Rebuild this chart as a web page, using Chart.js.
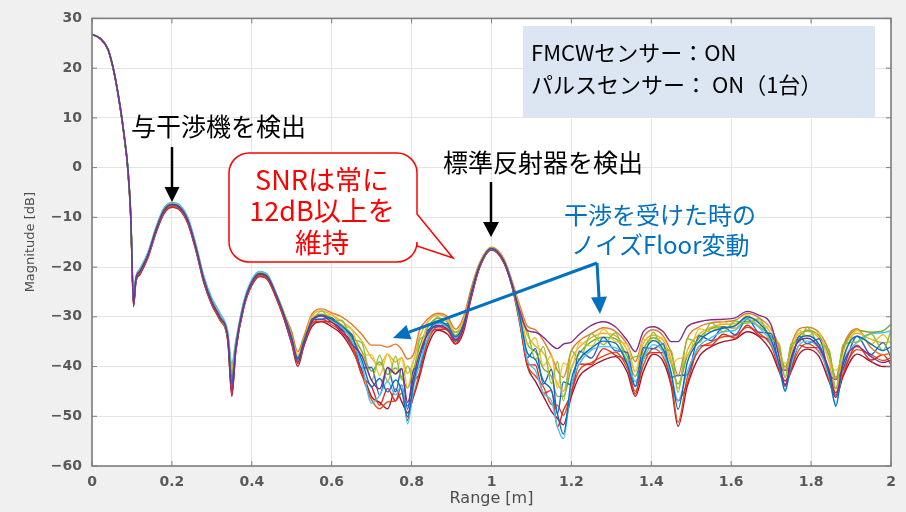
<!DOCTYPE html>
<html>
<head>
<meta charset="utf-8">
<script src="https://cdn.jsdelivr.net/npm/chart.js@4.4.1/dist/chart.umd.min.js"></script>
<style>
  html, body { margin: 0; padding: 0; background: #f0f0f0; }
  #wrap { width: 906px; height: 512px; }
</style>
</head>
<body>
<div id="wrap"><canvas id="chart" width="906" height="512"></canvas></div>
<script>
// range axis [m] shared by every trace
const rangeM = [0, 0.02, 0.04, 0.055, 0.07, 0.08, 0.09, 0.097, 0.104, 0.11,
  0.12, 0.14, 0.16, 0.18, 0.2, 0.22, 0.24, 0.26, 0.28, 0.3,
  0.32, 0.34, 0.35, 0.36, 0.38, 0.4, 0.42, 0.44, 0.46, 0.48,
  0.5, 0.515, 0.53, 0.55, 0.575, 0.6, 0.625, 0.65, 0.675, 0.7,
  0.72, 0.74, 0.76, 0.775, 0.79, 0.805, 0.82, 0.84, 0.865, 0.89,
  0.91, 0.93, 0.95, 0.97, 1.0, 1.03, 1.05, 1.07, 1.09, 1.11,
  1.13, 1.15, 1.165, 1.18, 1.2, 1.22, 1.25, 1.28, 1.31, 1.34,
  1.36, 1.38, 1.405, 1.43, 1.45, 1.467, 1.49, 1.52, 1.55, 1.58,
  1.61, 1.64, 1.67, 1.7, 1.72, 1.735, 1.75, 1.77, 1.79, 1.82,
  1.845, 1.862, 1.88, 1.915, 1.95, 1.98, 2.0];

// magnitude [dB] of the measured traces
const tracePurple = [26.8, 26, 23.8, 19.3, 12.5, 6.8, -0.4, -9.5, -27.5, -22.4, -20.9, -17.6, -12.6, -8.7, -7.4, -8, -10.7, -16.1, -22.6, -27.1, -30.1, -34.3, -45, -36.3, -27.6, -23.1, -21.4, -22.1, -25.5, -29.6,
  -34.5, -39.1, -35.4, -31, -29.8, -31.1, -32.5, -35.5, -37.8, -42.8, -44.5, -40.2, -41.5, -40.4, -47.2, -42, -37.4, -33.5, -31.7, -32.5, -34.6, -32.1, -25.3, -19.8, -16.3, -18.7, -23.2, -28.6, -32.8, -33.1, -34.1, -35.7, -36.4, -35.5, -35.1, -33.5, -31.7, -31, -32, -34.8, -37, -33, -32, -33, -35, -35, -32, -31, -30.6, -30.5, -30.2, -28.9, -29.7, -31.6, -38.2, -44, -38.2, -34.8, -34.3, -36.2, -40.6, -45.8, -39.6, -36, -38, -39.2, -38.7];
const traceBlue = [26.8, 26, 23.8, 19.3, 12.5, 6.8, -0.4, -9.5, -27, -22.3, -20.8, -17.5, -12.5, -8.6, -7.4, -8, -10.6, -16, -22.5, -27, -30, -34, -43, -36, -27.5, -23, -21.3, -22, -25.3, -29.5,
  -34.3, -38.5, -35, -30.8, -29.7, -30.5, -31.8, -34, -38.6, -44.1, -42.4, -45.1, -42.7, -44.8, -50.1, -43.3, -38.3, -33.3, -31, -31.8, -34, -31.5, -25, -19.7, -16.3, -18.6, -23, -29.6, -37.3, -38.6, -42.9, -44.8, -49.5, -53.6, -42.6, -38.6, -36.3, -34.9, -35.3, -39.6, -44, -37.8, -34.8, -36.6, -41.3, -48.6, -39.2, -34.9, -33, -32.3, -31.8, -30, -31.3, -34.6, -39.6, -45, -38.9, -34.5, -33.8, -35.6, -41.4, -48, -38.8, -33.9, -35.5, -36.8, -36];
const traceCyan = [26.8, 26, 23.9, 19.5, 12.8, 7.1, 0, -8.8, -25.5, -21.8, -20.3, -17, -12, -8.1, -7, -7.5, -10, -15.3, -21.8, -26.2, -29.2, -33, -39.5, -34.8, -26.8, -22.5, -20.9, -21.6, -25.1, -29.2,
  -34.5, -38.8, -35.2, -31, -29.9, -30.8, -32.1, -34.8, -39.5, -47.4, -45.8, -43, -45.7, -43.7, -51.5, -44.2, -39.7, -34.4, -31.3, -32.1, -34.3, -31.8, -25.2, -19.8, -16.4, -18.7, -23.1, -30.3, -38.7, -40.8, -45.4, -46.9, -52.1, -54.5, -43.7, -39.5, -36.7, -36, -36.2, -38.8, -43, -38.6, -35.6, -37.2, -41.8, -46.9, -41, -35.9, -34.2, -33, -32.7, -30.4, -32.2, -35.2, -40, -44.7, -39.6, -35.7, -34.9, -36.5, -42.2, -47.6, -39.6, -35.1, -33.4, -33.2, -32.8];
const traceLightOrange = [26.8, 26, 23.8, 19.3, 12.6, 6.9, -0.3, -9.3, -26.5, -22.1, -20.6, -17.3, -12.3, -8.4, -7.2, -7.8, -10.4, -15.8, -22.3, -26.8, -29.8, -33.8, -41, -35.5, -27.3, -22.8, -21.1, -21.8, -25.2, -29.3,
  -33, -37, -34, -29.5, -28.4, -29.2, -30, -31.5, -33.5, -35.7, -35.7, -36.1, -35.5, -36.6, -38.5, -37.5, -32.7, -30.5, -29.3, -30, -32.5, -30, -24, -19.2, -16, -18.2, -22.5, -27.5, -31.9, -32.6, -34.8, -37.8, -40.8, -42.2, -36.8, -34.8, -33.4, -32.2, -32.9, -35.6, -39, -34.2, -32.6, -33.9, -37.3, -41.8, -34.4, -32, -31.2, -31, -30.7, -29.3, -30.2, -32.5, -36.1, -40.8, -35.8, -32.4, -32.1, -33.2, -37, -42.6, -36, -32.4, -36.2, -37.6, -37.3];
const traceGreen = [26.8, 26, 23.8, 19.3, 12.5, 6.7, -0.5, -9.7, -27.3, -22.5, -21, -17.7, -12.7, -8.8, -7.6, -8.2, -10.8, -16.2, -22.7, -27.2, -30.2, -34.2, -42, -36, -27.7, -23.2, -21.5, -22.2, -25.5, -29.7,
  -34, -38.5, -35, -30.5, -29.5, -30.2, -31.6, -33.5, -36.9, -40.9, -39.1, -41.6, -40.3, -42.1, -44.3, -40.6, -36, -32.2, -30.3, -31.1, -33.7, -31.2, -24.8, -19.6, -16.2, -18.5, -22.9, -28.9, -35.5, -37, -40.4, -42, -46, -46, -40.3, -37.3, -35, -34.1, -34.4, -38, -42, -36.6, -34.2, -35.7, -39.5, -43.5, -38, -34.2, -32.4, -32, -32.3, -30.9, -32, -34, -36.8, -40.1, -36.5, -33.9, -32.7, -33.8, -37.8, -42.2, -36.4, -32.7, -33.1, -32.8, -31.5];
const traceYellow = [26.8, 26, 23.8, 19.4, 12.6, 7, -0.1, -9, -26, -22, -20.5, -17.2, -12.2, -8.3, -7.1, -7.7, -10.3, -15.6, -22.1, -26.6, -29.6, -33.5, -40, -35, -27.1, -22.7, -21, -21.7, -25, -29,
  -33.8, -37.9, -34.6, -30, -28.8, -29.6, -30.9, -32.5, -34.8, -38.3, -39.7, -37.5, -39.1, -38.2, -41.4, -38.8, -34.1, -31.1, -29.6, -30.4, -33.1, -30.6, -24.3, -19.3, -16.1, -18.3, -22.6, -28.2, -33.7, -35.9, -37.3, -40.6, -43.4, -45, -38.5, -36.1, -34.2, -33.3, -33.8, -36.8, -41, -35.4, -33.7, -34.8, -38.6, -44.4, -36.8, -33.5, -32.1, -31.5, -31.4, -30.2, -30.9, -33.4, -37.5, -42.2, -36.8, -33.3, -32.9, -34.4, -39, -45.3, -37.2, -33.3, -34.5, -35.2, -35];
const traceOrange = [26.8, 26, 23.8, 19.2, 12.4, 6.6, -0.7, -10, -27.8, -22.7, -21.2, -17.9, -12.9, -9, -7.8, -8.4, -11, -16.4, -22.9, -27.4, -30.5, -34.8, -44.5, -36.5, -27.9, -23.4, -21.7, -22.4, -25.8, -30,
  -35, -39.4, -35.6, -31.5, -30.5, -31.6, -33, -36, -41.6, -46.7, -48.5, -47.1, -46.9, -45.4, -47.9, -45.6, -41.1, -35.2, -32, -32.8, -34.9, -32.4, -25.6, -19.9, -16.5, -18.9, -23.3, -30.7, -39.6, -41.9, -44.1, -47.6, -47.8, -49.8, -44.9, -40.7, -39.2, -37.9, -37.1, -40.4, -45, -39.8, -36.4, -38.1, -43.1, -51.2, -42.2, -36.6, -35.1, -34, -33.8, -32.1, -33.3, -35.8, -40.3, -42.9, -40.3, -36.6, -35.4, -37.1, -41, -44.4, -40.8, -36.6, -37.6, -38.8, -38.2];
const traceDarkRed = [26.8, 26, 23.7, 19.1, 12.2, 6.4, -0.9, -10.4, -28, -23, -21.5, -18.2, -13.2, -9.3, -8, -8.6, -11.3, -16.7, -23.2, -27.6, -30.6, -35, -46, -37, -28.2, -23.7, -21.9, -22.6, -26, -30.3,
  -35.5, -40, -36, -32, -31, -32, -33.5, -36.5, -40.7, -46.1, -47.2, -48.5, -44.5, -47, -49.3, -46, -42, -36, -32.7, -33.5, -35.5, -33, -26, -20.2, -16.6, -19, -23.5, -31, -40, -43, -46, -49, -50.4, -51.7, -46, -42, -40, -38.7, -38, -41.2, -46, -41, -37.5, -39, -44, -52, -44, -38, -36, -35, -34.5, -33, -34, -37, -41, -43.6, -41, -37.5, -36.5, -38, -43, -46.2, -42, -37.5, -39, -40, -40];
const traceRed = [26.8, 25.9, 23.7, 19.1, 12.3, 6.6, -0.6, -10.2, -27.6, -22.8, -21.3, -17.8, -12.8, -9.1, -7.9, -8.5, -11.1, -16.5, -23, -27.5, -30.6, -34.6, -45.5, -36.8, -28, -23.5, -21.8, -22.5, -25.9, -30.1,
  -35.4, -39.1, -35.9, -31.3, -30.9, -31.1, -33.3, -35, -41.6, -44.1, -47.8, -44.4, -46.9, -43.7, -50.8, -43.3, -41.5, -34.4, -32.5, -32.5, -35.4, -32.1, -25.8, -20.1, -16.5, -18.9, -23.4, -30, -39.6, -39.7, -45.4, -44.8, -52.1, -48.8, -45.4, -39.5, -39.6, -36.4, -37.7, -39.6, -45.5, -38.6, -37.2, -37.2, -43.6, -46.9, -43.4, -35.9, -35.7, -33.5, -34.3, -31.7, -33.8, -35.2, -40.7, -42.9, -40.7, -35.7, -36.2, -36.2, -42.6, -45.3, -41.6, -35.7, -38.7, -37.6, -39.6];
const traceGold = [26.8, 26, 23.9, 19.4, 12.7, 7, 0, -9.4, -26.3, -22.1, -20.6, -17.3, -12.3, -8.4, -7.2, -7.8, -10.4, -15.7, -22.2, -26.7, -29.7, -33.6, -40.5, -35.2, -27.2, -22.8, -21.1, -21.8, -25.1, -29.1,
  -34.3, -37.6, -35, -30, -29.7, -29.6, -31.8, -32.5, -37.8, -37.6, -41.8, -37.5, -41.5, -38.2, -44.3, -38.8, -37.4, -31.6, -31, -30.7, -34, -30.6, -25, -19.4, -16.3, -18.4, -23, -28.2, -35.5, -34.2, -39.8, -37.8, -44.3, -39.3, -40.3, -35.2, -35.9, -32.5, -35, -35.6, -41, -34.6, -34.8, -34.2, -39.5, -38.4, -38, -32.4, -33, -31, -32.3, -29.6, -31.8, -32.2, -37.5, -39.4, -37.5, -32.7, -33.8, -33.2, -39, -40.8, -38, -32.7, -35.5, -33.6, -35.5];
const traceNavy = [26.8, 26, 23.8, 19.3, 12.5, 6.8, -0.3, -9.7, -27.2, -22.4, -20.9, -17.6, -12.6, -8.7, -7.5, -8.1, -10.7, -16.1, -22.6, -27.1, -30.1, -34.1, -43.5, -36.1, -27.6, -23.1, -21.4, -22.1, -25.4, -29.6,
  -35, -38.2, -35.6, -30.5, -30.5, -30.2, -32.8, -33.5, -40.3, -40.2, -45.8, -40.2, -45.1, -40.4, -48.6, -40.6, -40.1, -32.7, -32, -31.4, -34.9, -31.2, -25.5, -19.6, -16.5, -18.5, -23.3, -28.9, -38.2, -36.4, -43.5, -40.6, -49.5, -43.1, -43.7, -36.9, -38.3, -34.1, -36.8, -37.2, -44, -36.2, -36.4, -35.4, -42.2, -41.8, -41.6, -33.8, -34.8, -32, -33.6, -30.4, -33.1, -33.4, -39.6, -40.8, -39.6, -33.9, -35.4, -34.4, -41.4, -42.6, -40.4, -33.9, -37.6, -35.2, -38.2];
const traceLime = [26.8, 26, 23.8, 19.3, 12.6, 6.9, -0.2, -9.5, -26.8, -22.2, -20.7, -17.4, -12.4, -8.5, -7.3, -7.9, -10.5, -15.9, -22.4, -26.9, -29.9, -33.9, -41.5, -35.6, -27.4, -23, -21.2, -21.9, -25.3, -29.4,
  -33.5, -38.8, -34.4, -31, -28.8, -30.8, -30.7, -34.5, -35.2, -42.8, -37.7, -43, -37.9, -42.6, -39.9, -42.4, -34.6, -33.8, -30, -32.1, -33.1, -31.8, -24.5, -19.5, -16.1, -18.6, -22.7, -29.6, -32.8, -38.6, -36, -43.4, -39, -46.9, -36.8, -38.6, -33.4, -35.6, -33.2, -38.8, -38, -37.8, -33.1, -36.6, -36.8, -45.2, -34.4, -35.2, -31.2, -33, -30.9, -31.3, -30.4, -34.6, -35.4, -42.2, -35.4, -35.1, -32.1, -35.6, -36.6, -44.4, -35.6, -35.1, -33.4, -36.8, -32.8];

const xTicks = [0, 0.2, 0.4, 0.6, 0.8, 1, 1.2, 1.4, 1.6, 1.8, 2];
const yTicks = [-60, -50, -40, -30, -20, -10, 0, 10, 20, 30];

// first entry is drawn on top
const traces = [
  { data: tracePurple, color: '#7E2F8E' },
  { data: traceBlue, color: '#0072BD' },
  { data: traceLime, color: '#8CBF3A' },
  { data: traceCyan, color: '#4DBEEE' },
  { data: traceGold, color: '#F2C230' },
  { data: traceLightOrange, color: '#E8762B' },
  { data: traceNavy, color: '#2B5FC8' },
  { data: traceGreen, color: '#77AC30' },
  { data: traceRed, color: '#E8281E' },
  { data: traceYellow, color: '#EDB120' },
  { data: traceOrange, color: '#D95319' },
  { data: traceDarkRed, color: '#A2142F' }
];

const tickFont = { family: 'DejaVu Sans', size: 14, weight: 'bold' };

function arrow(ctx, x1, y1, x2, y2, color, lw, headLen, headW) {
  const ang = Math.atan2(y2 - y1, x2 - x1);
  const bx = x2 - headLen * Math.cos(ang), by = y2 - headLen * Math.sin(ang);
  ctx.strokeStyle = color;
  ctx.fillStyle = color;
  ctx.lineWidth = lw;
  ctx.beginPath();
  ctx.moveTo(x1, y1);
  ctx.lineTo(bx, by);
  ctx.stroke();
  ctx.beginPath();
  ctx.moveTo(x2, y2);
  ctx.lineTo(bx + headW / 2 * Math.sin(ang), by - headW / 2 * Math.cos(ang));
  ctx.lineTo(bx - headW / 2 * Math.sin(ang), by + headW / 2 * Math.cos(ang));
  ctx.closePath();
  ctx.fill();
}

const framePlugin = {
  id: 'frame',
  beforeDraw(chart) {
    const { ctx, chartArea: a } = chart;
    ctx.save();
    ctx.fillStyle = '#f0f0f0';
    ctx.fillRect(0, 0, chart.width, chart.height);
    ctx.fillStyle = '#ffffff';
    ctx.fillRect(a.left, a.top, a.width, a.height);
    ctx.restore();
  },
  afterDatasetsDraw(chart) {
    const { ctx, chartArea: a, scales } = chart;
    ctx.save();
    ctx.strokeStyle = '#7d7d7d';
    ctx.lineWidth = 1;
    ctx.beginPath();
    scales.x.ticks.forEach(t => {
      const px = scales.x.getPixelForValue(t.value);
      ctx.moveTo(px, a.bottom); ctx.lineTo(px, a.bottom - 5);
      ctx.moveTo(px, a.top); ctx.lineTo(px, a.top + 5);
    });
    scales.y.ticks.forEach(t => {
      const py = scales.y.getPixelForValue(t.value);
      ctx.moveTo(a.left, py); ctx.lineTo(a.left + 5, py);
      ctx.moveTo(a.right, py); ctx.lineTo(a.right - 5, py);
    });
    ctx.stroke();
    ctx.lineWidth = 1.6;
    ctx.strokeRect(a.left, a.top, a.width, a.height);
    ctx.restore();
  }
};

const notePlugin = {
  id: 'notes',
  afterDraw(chart) {
    const ctx = chart.ctx;
    const jp = '"Noto Sans CJK JP", "Noto Sans", sans-serif';
    ctx.save();
    ctx.textBaseline = 'middle';

    // sensor status box
    ctx.fillStyle = '#dce6f2';
    ctx.fillRect(523, 26, 352, 91);
    ctx.fillStyle = '#000000';
    ctx.font = '22px ' + jp;
    ctx.textAlign = 'left';
    ctx.fillText('FMCWセンサー：ON', 531, 53);
    ctx.fillText('パルスセンサー： ON（1台）', 531, 85);

    // detection labels with black arrows
    ctx.font = '25px ' + jp;
    ctx.fillText('与干渉機を検出', 131, 126);
    ctx.textAlign = 'center';
    ctx.fillText('標準反射器を検出', 543, 162);
    arrow(ctx, 172, 147, 172, 202, '#000000', 2.5, 15, 15);
    arrow(ctx, 491, 182, 491, 237, '#000000', 2.5, 15, 16);

    // red callout
    const l = 229, r = 417, t = 153, b = 262, rad = 20;
    ctx.beginPath();
    ctx.moveTo(l + rad, t);
    ctx.lineTo(r - rad, t);
    ctx.arcTo(r, t, r, t + rad, rad);
    ctx.lineTo(r, 214);
    ctx.lineTo(453, 258);
    ctx.lineTo(r, 246);
    ctx.lineTo(r, b - rad);
    ctx.arcTo(r, b, r - rad, b, rad);
    ctx.lineTo(l + rad, b);
    ctx.arcTo(l, b, l, b - rad, rad);
    ctx.lineTo(l, t + rad);
    ctx.arcTo(l, t, l + rad, t, rad);
    ctx.closePath();
    ctx.fillStyle = '#ffffff';
    ctx.fill();
    ctx.strokeStyle = '#ff0000';
    ctx.lineWidth = 1.5;
    ctx.stroke();
    ctx.fillStyle = '#ff0000';
    ctx.font = '27px ' + jp;
    ctx.fillText('SNRは常に', 322, 180);
    ctx.fillText('12dB以上を', 322, 211);
    ctx.fillText('維持', 322, 243);

    // blue note with arrows
    ctx.fillStyle = '#0070c0';
    ctx.font = '24px ' + jp;
    ctx.textAlign = 'left';
    ctx.fillText('干渉を受けた時の', 564, 215);
    ctx.fillText('ノイズFloor変動', 571, 245);
    arrow(ctx, 597, 263, 393, 338, '#0070c0', 3, 17, 15);
    arrow(ctx, 597, 263, 600, 314, '#0070c0', 3, 17, 16);
    ctx.restore();
  }
};

new Chart(document.getElementById('chart'), {
  type: 'line',
  data: {
    datasets: traces.map(tr => ({
      data: tr.data.map((v, i) => ({ x: rangeM[i], y: v })),
      borderColor: tr.color,
      borderWidth: 1.4,
      pointRadius: 0,
      fill: false,
      cubicInterpolationMode: 'monotone'
    }))
  },
  options: {
    responsive: false,
    animation: false,
    layout: { padding: { top: 17, right: 15, left: 0, bottom: 0 } },
    plugins: { legend: { display: false }, tooltip: { enabled: false } },
    scales: {
      x: {
        type: 'linear', min: 0, max: 2,
        afterBuildTicks: s => { s.ticks = xTicks.map(v => ({ value: v })); },
        afterFit: s => { s.height = 46; },
        grid: { color: '#e4e4e4', lineWidth: 1, drawTicks: false },
        border: { display: false },
        ticks: { font: tickFont, color: '#595959', padding: 8, maxRotation: 0,
          callback: v => String(Math.round(v * 10) / 10) },
        title: { display: true, text: 'Range [m]', color: '#4d4d4d',
          font: { family: 'DejaVu Sans', size: 16 }, padding: { top: 0, bottom: 4 } }
      },
      y: {
        type: 'linear', min: -60, max: 30,
        afterBuildTicks: s => { s.ticks = yTicks.map(v => ({ value: v })); },
        afterFit: s => { s.width = 92; },
        grid: { color: '#e4e4e4', lineWidth: 1, drawTicks: false },
        border: { display: false },
        ticks: { font: tickFont, color: '#595959', padding: 10,
          callback: v => v < 0 ? '\u2212' + Math.abs(v) : String(v) },
        title: { display: true, text: 'Magnitude [dB]', color: '#4d4d4d',
          font: { family: 'DejaVu Sans', size: 13 }, padding: { top: 23, bottom: 0 } }
      }
    }
  },
  plugins: [framePlugin, notePlugin]
});
</script>
</body>
</html>
